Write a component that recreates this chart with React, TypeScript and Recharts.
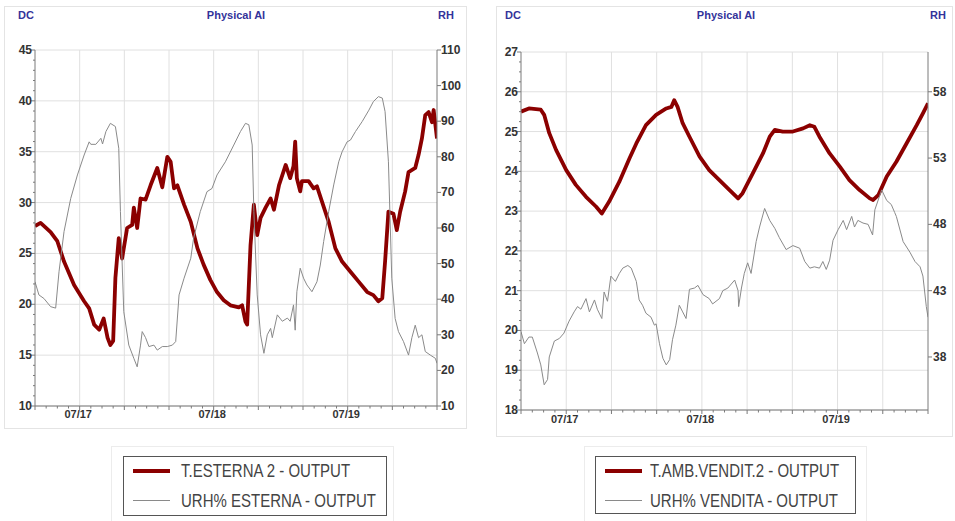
import React from 'react';
import { LineChart, Line, XAxis, YAxis, CartesianGrid } from 'recharts';

// ---- time axis (hours from 07/17 00:00) ----
const X_DOMAIN: [number, number] = [-8, 64];
const DAY_TICKS = [0, 24, 48];
const DAY_LABELS = ['07/17', '07/18', '07/19'];
const GRID_HOURS = [0, 8, 16, 24, 32, 40, 48, 56];

// ---- left panel: T.ESTERNA 2 (°C) ----
const tEstHours = [-8, -7, -5.2, -4, -2.8, -1, 0.8, 1.7, 2.6, 3.5, 4.3, 5, 5.5, 6, 6.4, 7, 7.6, 8.5, 9.4, 9.7, 10.3, 10.9, 11.8, 12.7, 13.9, 14.8, 15.7, 16.3, 16.9, 17.5, 18.7, 19.9, 21.1, 22.2, 23.4, 24.6, 25.8, 27, 28.5, 29.1, 29.7, 30, 30.6, 31.2, 31.8, 32.4, 33.3, 34.2, 34.8, 35.7, 36.9, 37.7, 38.3, 38.6, 38.9, 39.5, 39.8, 41, 41.9, 42.5, 43.4, 44.6, 45.8, 47, 48.5, 50, 51.5, 52.6, 53.5, 54.2, 54.7, 55.3, 56.2, 56.8, 57.4, 58.3, 58.9, 60.1, 60.7, 61.3, 61.9, 62.5, 63.1, 63.4, 64];
const tEstValues = [27.7, 28.0, 27.1, 26.2, 24.2, 21.9, 20.3, 19.6, 18.0, 17.5, 18.6, 16.7, 16.0, 16.4, 22.6, 26.5, 24.5, 27.5, 27.8, 29.5, 27.5, 30.4, 30.3, 31.7, 33.4, 31.5, 34.5, 34.0, 31.4, 31.7, 29.8, 28.1, 25.5, 23.9, 22.4, 21.2, 20.4, 19.9, 19.7, 19.9, 18.3, 18.0, 25.8, 29.8, 26.8, 28.5, 29.5, 30.4, 29.3, 31.7, 33.7, 32.4, 33.6, 36.0, 32.4, 31.1, 32.1, 32.1, 31.4, 31.6, 30.1, 28.1, 25.5, 24.2, 23.2, 22.2, 21.2, 20.9, 20.3, 20.6, 24.2, 29.1, 28.9, 27.3, 29.1, 31.1, 33.0, 33.4, 34.7, 36.3, 38.6, 38.9, 37.9, 39.1, 36.3];

// ---- left panel: URH% ESTERNA ----
const rhEstHours = [-8, -7.3, -6.4, -5.2, -4.3, -3.7, -2.8, -1.6, -0.4, 0.8, 1.7, 2.0, 2.9, 3.8, 4.1, 4.7, 5.5, 6.4, 7.0, 7.3, 7.9, 8.8, 9.7, 10.3, 10.9, 11.2, 11.8, 12.4, 13.3, 13.9, 14.8, 15.7, 16.6, 17.2, 17.8, 18.7, 19.9, 20.4, 21.6, 22.8, 23.7, 24.6, 26.1, 27.6, 28.8, 29.7, 30.3, 30.9, 31.2, 31.8, 32.4, 33.0, 33.6, 34.2, 34.5, 35.4, 36.3, 37.2, 37.7, 38.3, 38.6, 38.9, 39.5, 40.1, 40.7, 41.6, 42.5, 43.1, 43.7, 44.6, 45.5, 46.4, 47.0, 47.9, 48.5, 49.4, 50.6, 51.8, 52.6, 53.5, 54.2, 54.7, 55.3, 55.9, 56.5, 57.1, 58.0, 58.9, 59.5, 60.1, 60.7, 61.3, 61.9, 62.8, 63.7, 64];
const rhEstValues = [44.9, 41.2, 40.2, 37.9, 37.5, 47.7, 59.0, 68.3, 74.9, 80.5, 84.2, 83.5, 83.5, 85.2, 83.6, 87.1, 89.4, 88.5, 82.4, 64.6, 36.5, 27.1, 23.4, 21.0, 27.1, 30.9, 29.2, 26.7, 27.1, 25.7, 26.7, 26.7, 27.1, 28.1, 41.2, 45.9, 51.5, 57.1, 64.6, 70.2, 71.1, 74.9, 78.6, 83.3, 87.1, 89.4, 89.0, 83.3, 64.6, 41.2, 30.0, 24.8, 30.0, 31.8, 29.2, 35.6, 33.8, 34.7, 33.8, 38.4, 31.3, 42.1, 48.7, 45.9, 44.0, 42.1, 44.9, 49.6, 56.2, 64.6, 72.1, 78.6, 81.4, 84.2, 84.7, 87.1, 89.9, 93.1, 95.5, 96.9, 96.5, 92.7, 78.6, 45.9, 34.6, 30.9, 28.1, 24.3, 29.2, 32.7, 29.2, 30.0, 25.3, 24.3, 23.4, 22.0];

// ---- right panel: T.AMB.VENDIT.2 (°C) ----
const tAmbHours = [-8, -6.6, -4.5, -3.9, -3.0, -1.8, 0, 1.7, 3.5, 5.3, 6.3, 7.6, 9.4, 11.2, 12.4, 14.1, 15.9, 17.7, 18.6, 19.1, 19.7, 20.6, 21.8, 23.6, 25.3, 27.1, 28.9, 30.4, 31.2, 33.0, 34.8, 36.0, 36.9, 38.3, 40.1, 41.9, 43.1, 43.9, 44.8, 46.6, 48.4, 50.1, 51.9, 53.7, 54.3, 55.2, 56.7, 58.4, 60.2, 62.0, 63.1, 64.0];
const tAmbValues = [25.50, 25.58, 25.55, 25.42, 24.96, 24.54, 24.03, 23.66, 23.36, 23.11, 22.94, 23.24, 23.74, 24.33, 24.70, 25.16, 25.42, 25.58, 25.62, 25.79, 25.62, 25.21, 24.87, 24.37, 24.03, 23.78, 23.53, 23.32, 23.45, 23.95, 24.45, 24.87, 25.04, 25.0, 25.0, 25.08, 25.16, 25.12, 24.87, 24.45, 24.12, 23.78, 23.53, 23.32, 23.28, 23.40, 23.87, 24.24, 24.70, 25.16, 25.46, 25.71];

// ---- right panel: URH% VENDITA ----
const rhVenHours = [-8, -7.4, -6.6, -6.0, -5.1, -4.5, -3.9, -3.3, -3.0, -2.1, -1.2, -0.4, 0.5, 1.4, 2.0, 2.6, 3.5, 4.1, 5.0, 5.5, 6.3, 6.7, 7.3, 7.9, 8.7, 9.4, 10.0, 10.9, 11.5, 12.4, 12.9, 13.5, 14.1, 15.0, 15.6, 15.9, 16.5, 17.1, 17.7, 18.3, 18.8, 19.4, 20.0, 20.6, 21.2, 21.8, 22.7, 23.3, 24.2, 25.3, 25.9, 27.1, 27.7, 28.6, 29.8, 30.4, 30.5, 31.0, 31.5, 32.1, 32.7, 33.6, 34.2, 35.1, 36.0, 36.9, 37.7, 38.9, 40.1, 41.3, 42.2, 43.1, 43.9, 44.8, 45.4, 46.0, 46.6, 47.2, 48.1, 49.0, 49.6, 50.5, 51.0, 51.6, 52.5, 53.4, 54.2, 54.6, 55.8, 56.7, 57.5, 58.1, 58.4, 59.6, 60.8, 61.7, 62.6, 63.1, 63.7, 64.0];
const rhVenValues = [39.9, 39.0, 39.5, 39.5, 38.3, 37.4, 35.9, 36.3, 38.0, 39.2, 39.4, 39.8, 40.7, 41.4, 41.8, 41.6, 42.4, 41.4, 42.3, 41.6, 40.9, 42.9, 42.2, 44.1, 43.7, 44.3, 44.7, 44.9, 44.7, 43.7, 42.3, 41.9, 41.3, 41.0, 40.4, 40.5, 39.0, 37.9, 37.4, 37.8, 39.3, 40.4, 41.9, 41.4, 40.9, 43.1, 43.2, 43.4, 42.7, 42.4, 42.0, 42.4, 43.0, 43.2, 43.8, 43.0, 41.8, 43.2, 44.3, 45.1, 44.3, 46.7, 47.8, 49.2, 48.3, 47.7, 47.0, 46.1, 46.4, 46.2, 45.2, 44.7, 44.8, 44.7, 45.2, 44.6, 45.3, 46.8, 47.6, 48.3, 47.6, 48.6, 47.8, 48.3, 48.1, 48.0, 47.2, 49.1, 50.6, 49.8, 49.5, 48.9, 48.6, 46.7, 45.9, 45.2, 44.8, 44.1, 41.8, 41.0];

// ---- axis ticks ----
const X_TICKS = Array.from({ length: 37 }, (_, i) => -8 + i * 2);
const LEFT_T_TICKS = Array.from({ length: 36 }, (_, i) => 10 + i);
const LEFT_RH_TICKS = [10, 20, 30, 40, 50, 60, 70, 80, 90, 100, 110];
const RIGHT_T_TICKS = Array.from({ length: 37 }, (_, i) => 18 + i * 0.25);
const RIGHT_RH_TICKS = [38, 43, 48, 53, 58];
const LEFT_T_GRID = [10, 15, 20, 25, 30, 35, 40, 45];
const RIGHT_T_GRID = [18, 19, 20, 21, 22, 23, 24, 25, 26, 27];

const FONT = '"Liberation Sans", Arial, Helvetica, sans-serif';
const RED = '#8b0000';
const GRAY = '#8a8a8a';
const AXIS = '#7a7a7a';
const TITLE = '#33339a';

type Row = { h: number; [k: string]: number | undefined };

function mergeSeries(aH: number[], aV: number[], aKey: string, bH: number[], bV: number[], bKey: string): Row[] {
  const map = new Map<number, Row>();
  aH.forEach((h, i) => {
    const r = map.get(h) ?? { h };
    r[aKey] = aV[i];
    map.set(h, r);
  });
  bH.forEach((h, i) => {
    const r = map.get(h) ?? { h };
    r[bKey] = bV[i];
    map.set(h, r);
  });
  return Array.from(map.values()).sort((p, q) => p.h - q.h);
}

const leftRows = mergeSeries(tEstHours, tEstValues, 't', rhEstHours, rhEstValues, 'rh');
const rightRows = mergeSeries(tAmbHours, tAmbValues, 't', rhVenHours, rhVenValues, 'rh');

const tickText = { fontSize: 12, fontWeight: 700, fill: '#333', fontFamily: FONT } as const;

const makeXTick = (labelDy: number) => (props: any) => {
  const { x, y, payload } = props;
  const v = payload.value as number;
  const major = v % 8 === 0;
  const idx = DAY_TICKS.indexOf(v);
  return (
    <g>
      <line x1={x} x2={x} y1={y} y2={y + (major ? 4 : 2.5)} stroke={AXIS} strokeWidth={1} />
      {idx >= 0 && (
        <text x={x - 1.5} y={y + labelDy} textAnchor="middle" {...tickText} fontSize={11}>
          {DAY_LABELS[idx]}
        </text>
      )}
    </g>
  );
};

const makeLeftTick = (isMajor: (v: number) => boolean) => (props: any) => {
  const { x, y, payload } = props;
  const v = payload.value as number;
  const major = isMajor(v);
  return (
    <g>
      <line x1={x - (major ? 4 : 2)} x2={x} y1={y} y2={y} stroke={AXIS} strokeWidth={1} />
      {major && (
        <text x={x - 3} y={y + 4} textAnchor="end" {...tickText}>
          {v}
        </text>
      )}
    </g>
  );
};

const makeRightTick = (gap: number) => (props: any) => {
  const { x, y, payload } = props;
  return (
    <g>
      <line x1={x} x2={x + 4} y1={y} y2={y} stroke={AXIS} strokeWidth={1} />
      <text x={x + gap} y={y + 4} textAnchor="start" {...tickText}>
        {payload.value}
      </text>
    </g>
  );
};

type PanelProps = {
  left: number;
  width: number;
  height: number;
  top: number;
  leftAxisW: number;
  rightAxisW: number;
  xAxisH: number;
  rows: Row[];
  tDomain: [number, number];
  tTicks: number[];
  tGrid: number[];
  tMajor: (v: number) => boolean;
  rhDomain: [number, number];
  rhTicks: number[];
  xLabelDy: number;
  rightGap: number;
};

function Panel(p: PanelProps) {
  return (
    <div style={{ position: 'absolute', left: p.left, top: 0 }}>
      <LineChart
        width={p.width}
        height={p.height}
        data={p.rows}
        margin={{ top: p.top, right: 0, bottom: 0, left: 0 }}
      >
        <CartesianGrid
          yAxisId="t"
          stroke="#e0e0e0"
          strokeWidth={1}
          verticalValues={GRID_HOURS}
          horizontalValues={p.tGrid}
        />
        <XAxis
          dataKey="h"
          type="number"
          domain={X_DOMAIN}
          ticks={X_TICKS}
          interval={0}
          allowDataOverflow
          height={p.xAxisH}
          tickSize={0}
          tickMargin={0}
          tickLine={false}
          axisLine={{ stroke: AXIS }}
          tick={makeXTick(p.xLabelDy)}
        />
        <YAxis
          yAxisId="t"
          orientation="left"
          type="number"
          domain={p.tDomain}
          ticks={p.tTicks}
          interval={0}
          allowDataOverflow
          width={p.leftAxisW}
          tickSize={0}
          tickMargin={0}
          tickLine={false}
          axisLine={{ stroke: AXIS }}
          tick={makeLeftTick(p.tMajor)}
        />
        <YAxis
          yAxisId="rh"
          orientation="right"
          type="number"
          domain={p.rhDomain}
          ticks={p.rhTicks}
          interval={0}
          allowDataOverflow
          width={p.rightAxisW}
          tickSize={0}
          tickMargin={0}
          tickLine={false}
          axisLine={{ stroke: AXIS }}
          tick={makeRightTick(p.rightGap)}
        />
        <Line
          yAxisId="t"
          dataKey="t"
          type="linear"
          stroke={RED}
          strokeWidth={3.8}
          strokeLinejoin="round"
          dot={false}
          activeDot={false}
          connectNulls
          isAnimationActive={false}
        />
        <Line
          yAxisId="rh"
          dataKey="rh"
          type="linear"
          stroke={GRAY}
          strokeWidth={1}
          dot={false}
          activeDot={false}
          connectNulls
          isAnimationActive={false}
        />
      </LineChart>
    </div>
  );
}

const legendText = (x: number, y: number, s: string) => (
  <text
    transform={`translate(${x},${y}) scale(1,1.25)`}
    fontSize={15}
    fill="#444"
    fontFamily={FONT}
  >
    {s}
  </text>
);

function Frame() {
  return (
    <svg width={955} height={521} style={{ position: 'absolute', left: 0, top: 0 }}>
      <rect x={0} y={0} width={955} height={521} fill="#fff" />
      {/* panel frames */}
      <rect x={4.5} y={6.5} width={462} height={422} fill="none" stroke="#e4e4e4" />
      <rect x={496.5} y={6.5} width={456} height={430} fill="none" stroke="#e4e4e4" />
      {/* panel headers */}
      <g fontFamily={FONT} fontSize={11} fontWeight={700} fill={TITLE}>
        <text x={18} y={19}>DC</text>
        <text x={236} y={19} textAnchor="middle">Physical AI</text>
        <text x={438} y={19}>RH</text>
        <text x={505} y={19}>DC</text>
        <text x={726} y={19} textAnchor="middle">Physical AI</text>
        <text x={930} y={19}>RH</text>
      </g>
      {/* left legend */}
      <rect x={111.5} y={446.5} width={282} height={80} fill="none" stroke="#ececec" />
      <rect x={123.5} y={456.5} width={263} height={59} fill="#fff" stroke="#555" />
      <line x1={133} x2={170} y1={471} y2={471} stroke={RED} strokeWidth={4} />
      <line x1={133} x2={170} y1={500.5} y2={500.5} stroke={GRAY} strokeWidth={1} />
      {legendText(181, 477, 'T.ESTERNA 2 - OUTPUT')}
      {legendText(181, 507, 'URH% ESTERNA - OUTPUT')}
      {/* right legend */}
      <rect x={584.5} y={446.5} width={282} height={80} fill="none" stroke="#ececec" />
      <rect x={595.5} y={456.5} width={260} height={57} fill="#fff" stroke="#555" />
      <line x1={605} x2={642} y1={471} y2={471} stroke={RED} strokeWidth={4} />
      <line x1={605} x2={642} y1={500.5} y2={500.5} stroke={GRAY} strokeWidth={1} />
      {legendText(650, 477, 'T.AMB.VENDIT.2 - OUTPUT')}
      {legendText(650, 507, 'URH% VENDITA - OUTPUT')}
    </svg>
  );
}

export default function App() {
  return (
    <div style={{ position: 'absolute', left: 0, top: 0, width: 955, height: 521, background: '#fff' }}>
      <Frame />
      <Panel
        left={0}
        width={470}
        height={430}
        top={50}
        leftAxisW={35}
        rightAxisW={33}
        xAxisH={24}
        rows={leftRows}
        tDomain={[10, 45]}
        tTicks={LEFT_T_TICKS}
        tGrid={LEFT_T_GRID}
        tMajor={(v) => v % 5 === 0}
        rhDomain={[10, 110]}
        rhTicks={LEFT_RH_TICKS}
        xLabelDy={12}
        rightGap={4}
      />
      <Panel
        left={490}
        width={465}
        height={440}
        top={52}
        leftAxisW={31}
        rightAxisW={27}
        xAxisH={30}
        rows={rightRows}
        tDomain={[18, 27]}
        tTicks={RIGHT_T_TICKS}
        tGrid={RIGHT_T_GRID}
        tMajor={(v) => Number.isInteger(v)}
        rhDomain={[34, 61]}
        rhTicks={RIGHT_RH_TICKS}
        xLabelDy={13}
        rightGap={5}
      />
    </div>
  );
}
